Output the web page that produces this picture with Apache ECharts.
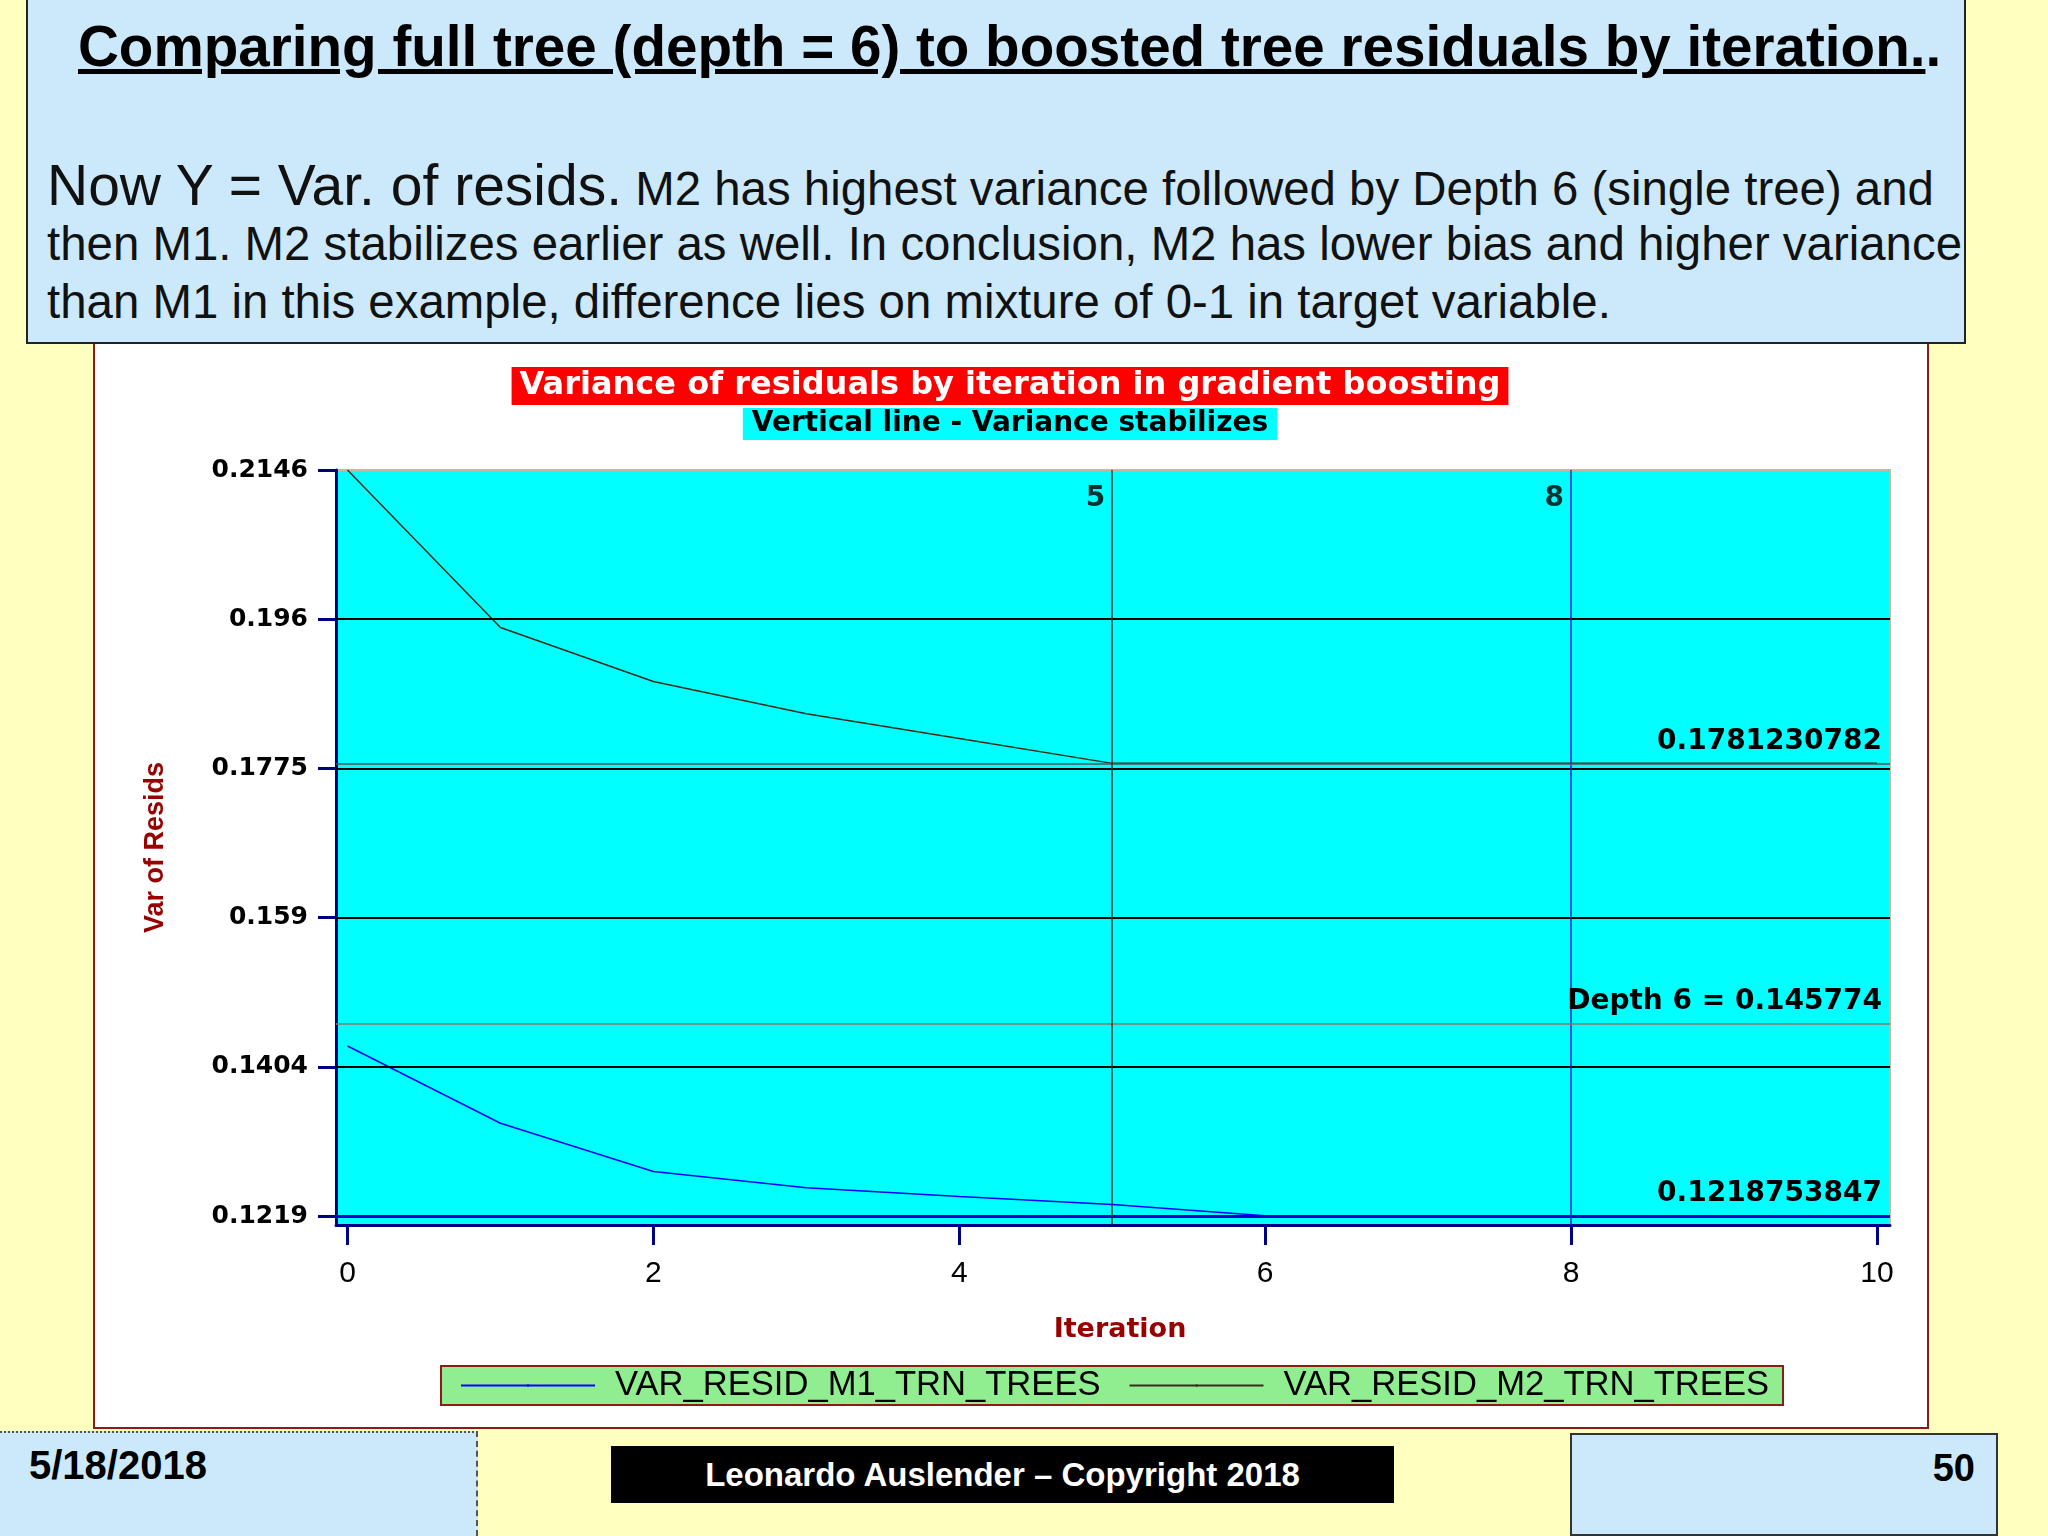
<!DOCTYPE html>
<html>
<head>
<meta charset="utf-8">
<script src="https://cdn.jsdelivr.net/npm/echarts@6/dist/echarts.min.js"></script>
<style>
  html, body { margin: 0; padding: 0; }
  body { width: 2048px; height: 1536px; background: #FFFFC0; position: relative; overflow: hidden;
         font-family: 'Liberation Sans', Arial, sans-serif; }
  .abs { position: absolute; white-space: nowrap; }
  #head { left: 26px; top: -2px; width: 1940px; height: 346px; background: #CCE9FB; border: 2px solid #222; box-sizing: border-box; z-index: 3; }
  #frame { left: 93px; top: 330px; width: 1836px; height: 1099px; background: #fff; border: 2px solid #8B1A1A; box-sizing: border-box; z-index: 1; }
  #main { left: 0; top: 0; width: 2048px; height: 1536px; z-index: 2; }
  .ttl { font-weight: bold; font-size: 56.6px; color: #000; }
  .txt { font-size: 47.4px; color: #111; line-height: 58px; }
  .foot { background: #CCE9FB; box-sizing: border-box; z-index: 3; }
</style>
</head>
<body>
<div id="head" class="abs">
  <div class="abs ttl" style="left:50px; top:12px; line-height:70px;"><span style="text-decoration:underline;">Comparing full tree (depth = 6) to boosted tree residuals by iteration.</span>.</div>
  <div class="abs txt" style="left:19px; top:156px;"><span style="font-size:57px;">Now Y = Var. of resids.</span> M2 has highest variance followed by Depth 6 (single tree) and</div>
  <div class="abs txt" style="left:19px; top:215px;">then M1. M2 stabilizes earlier as well. In conclusion, M2 has lower bias and higher variance</div>
  <div class="abs txt" style="left:19px; top:273px;">than M1 in this example, difference lies on mixture of 0-1 in target variable.</div>
</div>
<div id="frame" class="abs"></div>
<div id="main" class="abs"></div>
<div class="abs foot" style="left:0; top:1431px; width:478px; height:105px; border-top:2px dotted #555; border-right:2px dashed #555;">
  <div class="abs" style="left:29px; top:10px; font-weight:bold; font-size:40px;">5/18/2018</div>
</div>
<div class="abs" style="left:611px; top:1446px; width:783px; height:57px; background:#000; color:#fff; font-weight:bold; font-size:33px; line-height:57px; text-align:center; z-index:3;">Leonardo Auslender – Copyright 2018</div>
<div class="abs foot" style="left:1570px; top:1433px; width:428px; height:103px; border:2px solid #333;">
  <div class="abs" style="right:21px; top:12px; font-weight:bold; font-size:38px;">50</div>
</div>
<script>
// iterations of the boosting run
const iterations = [0, 1, 2, 3, 4, 5, 6, 7, 8, 9, 10];
// variance of residuals, model 1 (blue) and model 2 (dark)
const varResidM1 = [0.1430, 0.1334, 0.1274, 0.1254, 0.1243, 0.1233, 0.12190, 0.121876, 0.121876, 0.121876, 0.121876];
const varResidM2 = [0.21458, 0.1950, 0.1883, 0.1843, 0.1812, 0.178123, 0.178123, 0.178123, 0.178123, 0.178123, 0.178123];
// reference lines
const m1Final = 0.1218753847;
const m2Final = 0.1781230782;
const depth6 = 0.145774;
// iteration where variance stabilizes: M2, M1
const stabilizeIter = [5, 8];
// axis ticks
const xTickValues = [0, 2, 4, 6, 8, 10];
const yTickValues = [0.121875, 0.140416, 0.158957, 0.177498, 0.196039, 0.21458];
const yTickLabels = ['0.1219', '0.1404', '0.159', '0.1775', '0.196', '0.2146'];

const yMin = 0.120757, yMax = 0.21458;

const chart = echarts.init(document.getElementById('main'), null, { width: 2048, height: 1536 });

const labelFont = { color: '#000', fontFamily: 'DejaVu Sans', fontWeight: 'bold', fontSize: 28 };

const option = {
  backgroundColor: 'transparent',
  animation: false,
  graphic: [
    {
      type: 'text', x: 1010, y: 386,
      style: {
        text: 'Variance of residuals by iteration in gradient boosting',
        fill: '#fff', font: 'bold 32px "DejaVu Sans"', align: 'center', verticalAlign: 'middle',
        backgroundColor: '#FF0000', padding: [3, 8, 3, 8]
      }
    },
    {
      type: 'text', x: 1010, y: 424,
      style: {
        text: 'Vertical line - Variance stabilizes',
        fill: '#000', font: 'bold 28px "DejaVu Sans"', align: 'center', verticalAlign: 'middle',
        backgroundColor: '#00FFFF', padding: [2, 9, 2, 9]
      }
    }
  ],
  grid: {
    left: 336, top: 470, width: 1554, height: 755,
    show: true, backgroundColor: '#00FFFF', borderColor: '#C8B898', borderWidth: 2
  },
  legend: {
    data: ['VAR_RESID_M1_TRN_TREES', 'VAR_RESID_M2_TRN_TREES'],
    left: 441, top: 1366,
    padding: [2, 14, 2, 19],
    itemWidth: 134, itemHeight: 3, itemGap: 28,
    backgroundColor: '#90EE90', borderColor: '#8B1A1A', borderWidth: 2,
    textStyle: { color: '#000', fontFamily: 'Liberation Sans', fontSize: 34.6, padding: [0, 0, 0, 15] }
  },
  xAxis: {
    type: 'value', min: -0.075, max: 10.085,
    name: 'Iteration', nameLocation: 'middle', nameGap: 91,
    nameTextStyle: { color: '#990000', fontFamily: 'DejaVu Sans', fontWeight: 'bold', fontSize: 27, padding: [0, 0, 0, 14] },
    axisLine: { show: true, onZero: false, lineStyle: { color: '#000080', width: 3 } },
    axisTick: { show: true, customValues: xTickValues, length: 20, lineStyle: { color: '#000080', width: 3 } },
    axisLabel: { customValues: xTickValues, margin: 34, color: '#000', fontFamily: 'Liberation Sans', fontSize: 30 },
    splitLine: { show: false }
  },
  yAxis: {
    type: 'value', min: yMin, max: yMax,
    name: 'Var of Resids', nameLocation: 'middle', nameGap: 167,
    nameTextStyle: { color: '#990000', fontFamily: 'Liberation Sans', fontWeight: 'bold', fontSize: 27 },
    axisLine: { show: true, onZero: false, lineStyle: { color: '#000080', width: 3 } },
    axisTick: { show: true, customValues: yTickValues, length: 18, lineStyle: { color: '#000080', width: 3 } },
    axisLabel: {
      customValues: yTickValues, margin: 28,
      color: '#000', fontFamily: 'DejaVu Sans', fontWeight: 'bold', fontSize: 25,
      formatter: function (v) {
        const i = yTickValues.findIndex(t => Math.abs(t - v) < 1e-7);
        return i >= 0 ? yTickLabels[i] : '';
      }
    },
    splitLine: { show: false }
  },
  series: [
    {
      name: 'VAR_RESID_M1_TRN_TREES',
      type: 'line',
      data: iterations.map((x, i) => [x, varResidM1[i]]),
      color: '#0000FF',
      symbol: 'none',
      lineStyle: { color: '#0000FF', width: 1.5 },
      z: 4,
      markLine: {
        silent: true, symbol: ['none', 'none'], animation: false, precision: 10,
        data: yTickValues.slice(1, 5).map(v => ({ yAxis: v, lineStyle: { color: '#000', width: 2, type: 'solid' }, label: { show: false } }))
          .concat([
            { yAxis: m1Final, lineStyle: { color: '#0000CC', width: 3, type: 'solid' },
              label: Object.assign({ show: true, position: 'insideEndTop', distance: 8, formatter: String(m1Final) }, labelFont) },
            { xAxis: stabilizeIter[1], lineStyle: { color: '#2222CC', width: 1.5, type: 'solid' }, label: { show: false } }
          ])
      }
    },
    {
      name: 'VAR_RESID_M2_TRN_TREES',
      type: 'line',
      data: iterations.map((x, i) => [x, varResidM2[i]]),
      color: '#3a2c18',
      symbol: 'none',
      lineStyle: { color: '#3a2c18', width: 1.5 },
      z: 4,
      markLine: {
        silent: true, symbol: ['none', 'none'], animation: false, precision: 10,
        data: [
          { yAxis: m2Final, lineStyle: { color: '#555', width: 1.5, type: 'solid' },
            label: Object.assign({ show: true, position: 'insideEndTop', distance: 8, formatter: String(m2Final) }, labelFont) },
          { yAxis: depth6, lineStyle: { color: '#8a7a6a', width: 1.5, type: 'solid' },
            label: Object.assign({ show: true, position: 'insideEndTop', distance: 8, formatter: 'Depth 6 = ' + depth6 }, labelFont) },
          { xAxis: stabilizeIter[0], lineStyle: { color: '#333', width: 1.5, type: 'solid' }, label: { show: false } }
        ]
      }
    },
    {
      name: 'stabilize',
      type: 'scatter',
      data: stabilizeIter.map(x => [x, yMax]),
      symbolSize: 0,
      silent: true,
      z: 5,
      label: Object.assign({ show: true, position: 'left', distance: 7, offset: [0, 29], formatter: p => String(p.value[0]) }, labelFont)
    }
  ]
};

chart.setOption(option);
</script>
</body>
</html>
